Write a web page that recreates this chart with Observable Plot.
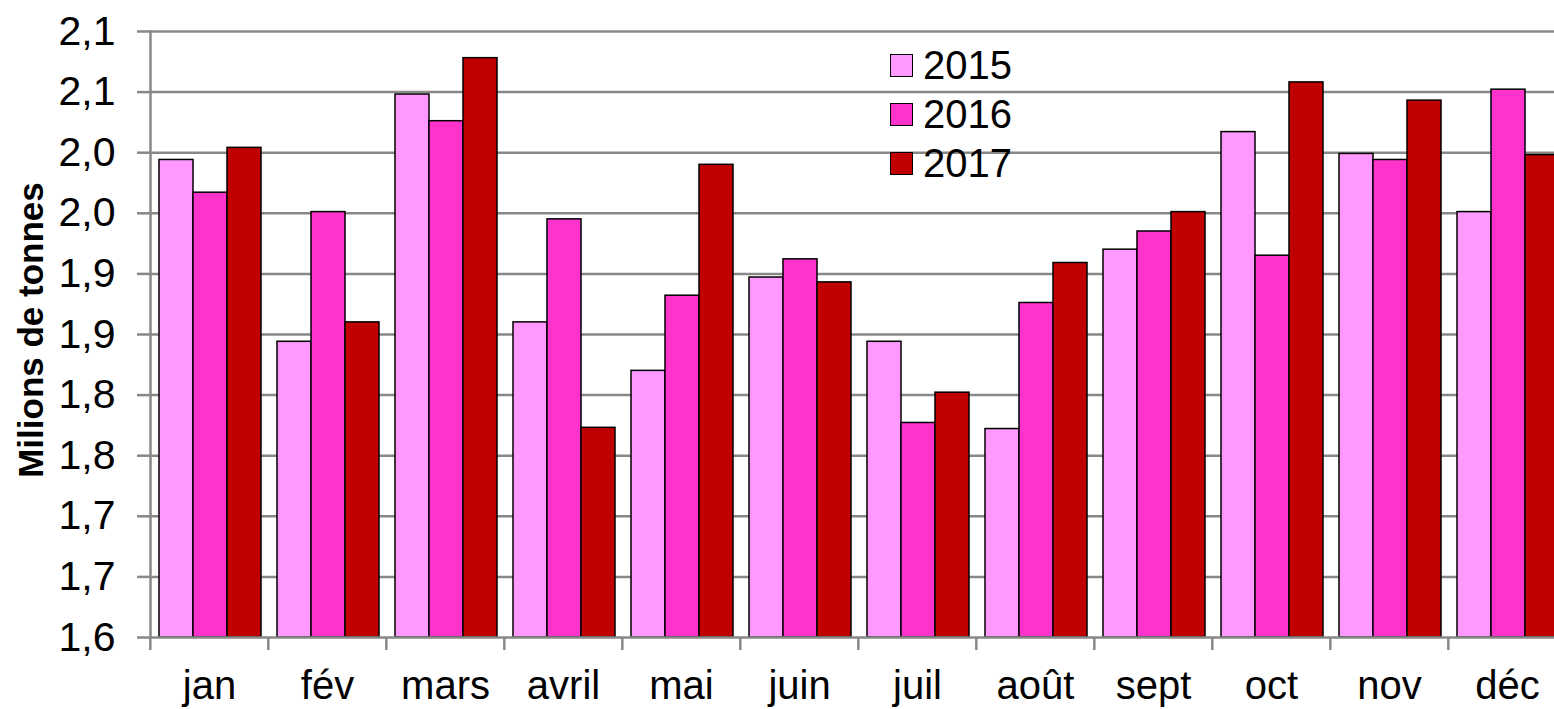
<!DOCTYPE html>
<html><head><meta charset="utf-8">
<script src="https://cdn.jsdelivr.net/npm/d3@7"></script>
<script src="https://cdn.jsdelivr.net/npm/@observablehq/plot@0.6"></script>
<style>
html,body{margin:0;padding:0;background:#fff;overflow:hidden;}
#wrap{position:relative;width:1554px;height:709px;overflow:hidden;font-family:"Liberation Sans",Arial,sans-serif;}
#chart{position:absolute;left:0;top:0;width:1568px;}
#chart svg{max-width:none !important;}
#ylabel{position:absolute;left:31px;top:330px;transform:translate(-50%,-50%) rotate(-90deg);font-weight:bold;font-size:35px;white-space:nowrap;color:#000;}
#legend{position:absolute;left:890px;top:41px;}
.row{display:flex;align-items:center;height:49px;font-size:40px;color:#000;}
.sw{width:21px;height:21px;border:1px solid #000;margin-right:10px;}
</style></head>
<body><div id="wrap"><div id="chart"></div><div id="ylabel">Milions de tonnes</div><div id="legend"></div></div>
<script>
const months = ["jan","fév","mars","avril","mai","juin","juil","août","sept","oct","nov","déc"];
const years = ["2015","2016","2017"];
const v2015 = [1.994, 1.844, 2.048, 1.860, 1.820, 1.897, 1.844, 1.772, 1.920, 2.017, 1.999, 1.951];
const v2016 = [1.967, 1.951, 2.026, 1.945, 1.882, 1.912, 1.777, 1.876, 1.935, 1.915, 1.994, 2.052];
const v2017 = [2.004, 1.860, 2.078, 1.773, 1.990, 1.893, 1.802, 1.909, 1.951, 2.058, 2.043, 1.998];
const yTicks = [1.6, 1.65, 1.7, 1.75, 1.8, 1.85, 1.9, 1.95, 2.0, 2.05, 2.1];
const yTickLabels = ["1,6","1,7","1,7","1,8","1,8","1,9","1,9","2,0","2,0","2,1","2,1"];
const colors = ["#FF99FF", "#FF33CC", "#C00000"];

const series = [v2015, v2016, v2017];
const data = [];
months.forEach((m, i) => years.forEach((y, k) => data.push({month: m, year: y, value: series[k][i]})));
const labelMap = new Map(yTicks.map((t, i) => [t, yTickLabels[i]]));

const W = 1568, H = 709, mL = 148, mT = 31, mB = 72;
const step = (W - mL) / months.length;
const yMin = yTicks[0], yMax = yTicks[yTicks.length - 1];
const grey = "#888";

const chart = Plot.plot({
  width: W, height: H,
  marginLeft: mL, marginRight: 0, marginTop: mT, marginBottom: mB,
  style: {fontFamily: "'Liberation Sans', Arial, sans-serif", background: "#fff", color: "#000", maxWidth: "none"},
  fx: {domain: months, padding: 0, label: null},
  x: {domain: years, paddingInner: 0, paddingOuter: 0.22, align: 0.57, axis: null},
  y: {domain: [yMin, yMax], label: null},
  color: {domain: years, range: colors},
  marks: [
    Plot.gridY(yTicks.slice(1), {stroke: grey, strokeOpacity: 1, strokeWidth: 2.5}),
    Plot.barY(data, {fx: "month", x: "year", y1: () => yMin, y2: "value", fill: "year", stroke: "#000", strokeWidth: 1.5}),
    Plot.ruleY([yMin], {stroke: grey, strokeWidth: 2.5}),
    Plot.frame({anchor: "left", facet: "super", stroke: grey, strokeWidth: 2.5}),
    Plot.axisY(yTicks, {tickSize: 13, tickPadding: 22, tickFormat: d => labelMap.get(d), stroke: grey, strokeWidth: 2.5, fill: "#000", fontSize: 41, label: null}),
    Plot.axisFx({anchor: "bottom", tickSize: 0, tickPadding: 33, fontSize: 40, fill: "#000", label: null}),
    Plot.axisFx({anchor: "bottom", tickSize: 13, tickFormat: () => "", dx: -step / 2, stroke: grey, strokeWidth: 2.5, label: null})
  ]
});
document.getElementById("chart").appendChild(chart);

const legend = document.getElementById("legend");
years.forEach((y, k) => {
  const row = document.createElement("div");
  row.className = "row";
  const sw = document.createElement("div");
  sw.className = "sw";
  sw.style.background = colors[k];
  const t = document.createElement("span");
  t.textContent = y;
  row.appendChild(sw); row.appendChild(t);
  legend.appendChild(row);
});
</script>
</body></html>
